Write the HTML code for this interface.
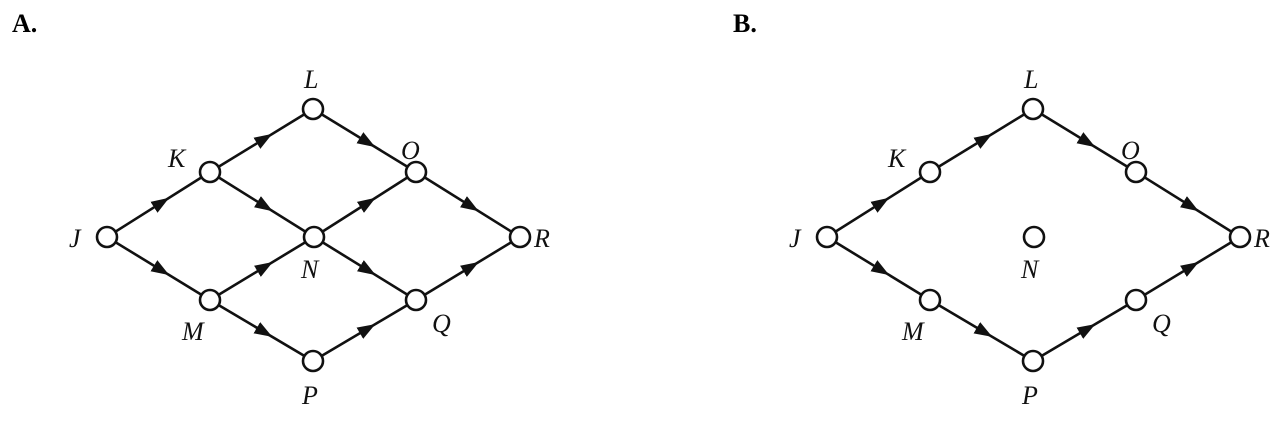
<!DOCTYPE html>
<html><head><style>body{margin:0;background:#fff}svg{display:block}
.h{font-family:"Liberation Serif","Times New Roman",serif;font-weight:bold;font-size:26px}
.l{font-family:"Liberation Serif","Times New Roman",serif;font-style:italic;font-size:26px;fill:#111}
</style></head><body>
<svg width="1285" height="423" xmlns="http://www.w3.org/2000/svg">
<defs>
<marker id="a" viewBox="0 0 18 13" refX="9" refY="6.5" markerWidth="18" markerHeight="13" markerUnits="userSpaceOnUse" orient="auto"><path d="M0,0 L18,6.5 L0,13 z" fill="#111"/></marker>
</defs>
<g class="h"><text x="12" y="32">A.</text><text x="733" y="32">B.</text></g>
<g id="g" stroke="#111" stroke-width="2.6" fill="none"></g>
<g class="l" id="t"></g>
</svg>
<script>
const ns="http://www.w3.org/2000/svg";
function P(ox){return {J:[ox+107,237],K:[ox+210,172],L:[ox+313,109],M:[ox+210,300],N:[ox+314,237],O:[ox+416,172],P:[ox+313,361],Q:[ox+416,300],R:[ox+520,237]};}
const g=document.getElementById('g'),t=document.getElementById('t');
function draw(ox,edges){const p=P(ox);
for(const e of edges){const a=p[e[0]],b=p[e[1]];
const l=document.createElementNS(ns,'line');l.setAttribute('x1',a[0]);l.setAttribute('y1',a[1]);l.setAttribute('x2',b[0]);l.setAttribute('y2',b[1]);g.appendChild(l);
const m=document.createElementNS(ns,'polyline');const mx=(a[0]+b[0])/2+(b[0]-a[0])*0.03,my=(a[1]+b[1])/2+(b[1]-a[1])*0.03;
m.setAttribute('points',`${a[0]},${a[1]} ${mx},${my} ${b[0]},${b[1]}`);m.setAttribute('marker-mid','url(#a)');m.setAttribute('stroke','none');g.appendChild(m);}
for(const k in p){const c=document.createElementNS(ns,'circle');c.setAttribute('cx',p[k][0]);c.setAttribute('cy',p[k][1]);c.setAttribute('r',10);c.setAttribute('fill','#fff');g.appendChild(c);}
const lab={J:[-38,10],K:[-42,-5],L:[-9,-21],M:[-28,40],N:[-13,41],O:[-15,-13],P:[-11,43],Q:[16,32],R:[14,10]};
for(const k in lab){const x=document.createElementNS(ns,'text');x.setAttribute('x',p[k][0]+lab[k][0]);x.setAttribute('y',p[k][1]+lab[k][1]);x.textContent=k;t.appendChild(x);}}
draw(0,[['J','K'],['K','L'],['L','O'],['O','R'],['J','M'],['M','P'],['P','Q'],['Q','R'],['K','N'],['N','Q'],['M','N'],['N','O']]);
draw(720,[['J','K'],['K','L'],['L','O'],['O','R'],['J','M'],['M','P'],['P','Q'],['Q','R']]);
</script>
</body></html>
